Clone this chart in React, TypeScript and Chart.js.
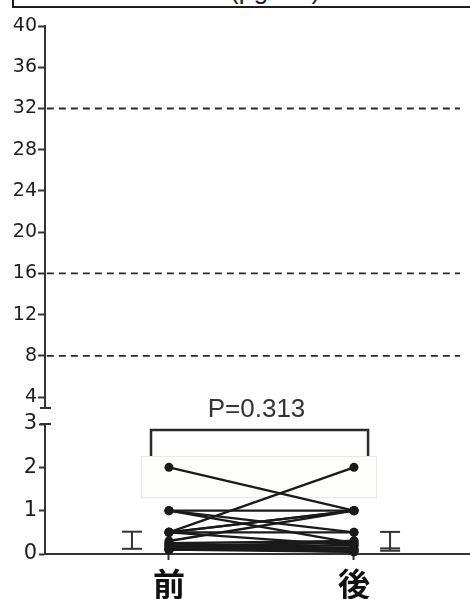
import React, { useEffect, useRef } from 'react';
import { Chart, registerables } from 'chart.js';

Chart.register(...registerables);

// ---- data ----
const groups = ['前', '後'];
const beforeValues = [2, 1, 1, 1, 0.5, 0.5, 0.5, 0.5, 0.5, 0.3, 0.25, 0.25, 0.2, 0.2, 0.15, 0.15, 0.1, 0.1, 0.1, 0.1];
const afterValues = [1, 1, 0.5, 0.25, 2, 1, 1, 0.5, 0.2, 1, 0.3, 0.1, 0.25, 0.1, 0.2, 0.05, 0.15, 0.1, 0.05, 0.3];
const upperTicks = [4, 8, 12, 16, 20, 24, 28, 32, 36, 40];
const lowerTicks = [0, 1, 2, 3];
const referenceLines = [8, 16, 32];
const errorBefore = [0.12, 0.515];
const errorAfter = [0.075, 0.13, 0.51];
const pLabel = 'P=0.313';
const titleText = '(μg/mL)';

// ---- layout constants (positions, not data) ----
const X_MIN = -0.67;
const X_MAX = 1.627;
const ERR_X_BEFORE = -0.2;
const ERR_X_AFTER = 1.195;
const DASH_END = 1.573;
const BRACKET_X = [-0.097, 1.076];
const BRACKET_Y = [2.26, 2.86];
const BOX_X = [-0.151, 1.124];
const BOX_Y = [1.29, 2.26];

const TICK_FONT = '"DejaVu Sans", sans-serif';

const overlay = {
  id: 'overlay',
  beforeDatasetsDraw(chart: any) {
    const { ctx, scales } = chart;
    const x = scales.x;
    const y = scales.yBot;
    ctx.save();
    const bx0 = x.getPixelForValue(BRACKET_X[0]);
    const bx1 = x.getPixelForValue(BRACKET_X[1]);
    const by0 = y.getPixelForValue(BRACKET_Y[0]);
    const by1 = y.getPixelForValue(BRACKET_Y[1]);
    ctx.strokeStyle = '#2a2a2a';
    ctx.lineWidth = 2.5;
    ctx.beginPath();
    ctx.moveTo(bx0, by0);
    ctx.lineTo(bx0, by1);
    ctx.lineTo(bx1, by1);
    ctx.lineTo(bx1, by0);
    ctx.stroke();

    const rx0 = x.getPixelForValue(BOX_X[0]);
    const rx1 = x.getPixelForValue(BOX_X[1]);
    const ry0 = y.getPixelForValue(BOX_Y[1]);
    const ry1 = y.getPixelForValue(BOX_Y[0]);
    ctx.fillStyle = '#fdfdfb';
    ctx.fillRect(rx0, ry0, rx1 - rx0, ry1 - ry0);
    ctx.strokeStyle = '#e6e6e6';
    ctx.lineWidth = 1;
    ctx.strokeRect(rx0 + 0.5, ry0 + 0.5, rx1 - rx0 - 1, ry1 - ry0 - 1);

    ctx.fillStyle = '#333';
    ctx.font = '26px "Liberation Sans", Arial, sans-serif';
    ctx.textAlign = 'center';
    ctx.textBaseline = 'alphabetic';
    ctx.fillText(pLabel, (bx0 + bx1) / 2 - 3, by1 - 13);
    ctx.restore();
  },
  afterDraw(chart: any) {
    const { ctx, scales } = chart;
    const top = scales.yTop;
    const bot = scales.yBot;
    const ax = chart.chartArea.left;
    ctx.save();
    ctx.strokeStyle = '#333';
    ctx.lineWidth = 2;
    ctx.beginPath();
    ctx.moveTo(ax - 5, top.bottom);
    ctx.lineTo(ax + 6, top.bottom);
    ctx.moveTo(ax - 5, bot.top);
    ctx.lineTo(ax + 6, bot.top);
    ctx.stroke();
    ctx.restore();
  },
};

export default function App() {
  const canvasRef = useRef<HTMLCanvasElement | null>(null);

  useEffect(() => {
    if (!canvasRef.current) return;
    const pairSets = beforeValues.map((b, i) => ({
      type: 'line' as const,
      data: [
        { x: 0, y: b },
        { x: 1, y: afterValues[i] },
      ],
      yAxisID: 'yBot',
      borderColor: '#1a1a1a',
      borderWidth: 2.3,
      pointRadius: 4.5,
      pointBackgroundColor: '#1a1a1a',
      pointBorderWidth: 0,
      clip: false as any,
    }));
    const errSets = [
      { xv: ERR_X_BEFORE, vals: errorBefore },
      { xv: ERR_X_AFTER, vals: errorAfter },
    ].map((e) => ({
      type: 'line' as const,
      data: e.vals.map((v) => ({ x: e.xv, y: v })),
      yAxisID: 'yBot',
      borderColor: '#333',
      borderWidth: 2,
      pointStyle: 'line' as const,
      pointRadius: 10,
      pointBorderWidth: 2,
      pointBorderColor: '#333',
    }));
    const dashSets = referenceLines.map((v) => ({
      type: 'line' as const,
      data: [
        { x: X_MIN + 0.01, y: v },
        { x: DASH_END, y: v },
      ],
      yAxisID: 'yTop',
      borderColor: '#2a2a2a',
      borderWidth: 1.8,
      borderDash: [7, 5],
      pointRadius: 0,
    }));

    const yAxis = (size: number, tickLength: number, padding: number) => ({
      type: 'linear' as const,
      position: 'left' as const,
      stack: 'ystack',
      border: { display: true, color: '#333', width: 2 },
      grid: {
        display: true,
        drawOnChartArea: false,
        drawTicks: true,
        tickLength,
        tickWidth: 2,
        tickColor: '#333',
      },
      ticks: {
        color: '#1e1e1e',
        padding,
        autoSkip: false,
        font: { family: TICK_FONT, size },
      },
      afterFit: (s: any) => {
        s.width = 45;
        s.paddingTop = 0;
        s.paddingBottom = 0;
      },
    });

    const chart = new Chart(canvasRef.current, {
      type: 'line',
      data: { datasets: [...pairSets, ...errSets, ...dashSets] as any },
      plugins: [overlay],
      options: {
        animation: false,
        responsive: false,
        maintainAspectRatio: false,
        layout: { autoPadding: false, padding: { top: 26, left: 0, right: 0, bottom: 0 } },
        plugins: { legend: { display: false }, tooltip: { enabled: false } },
        scales: {
          x: {
            type: 'linear',
            min: X_MIN,
            max: X_MAX,
            border: { display: true, color: '#333', width: 2 },
            grid: {
              display: true,
              drawOnChartArea: false,
              drawTicks: true,
              tickLength: 6,
              tickWidth: 2,
              tickColor: '#333',
            },
            afterBuildTicks: (s: any) => {
              s.ticks = groups.map((_, i) => ({ value: i }));
            },
            ticks: {
              color: '#111',
              padding: 5,
              maxRotation: 0,
              autoSkip: false,
              font: { family: '"Noto Sans CJK JP", sans-serif', size: 32, weight: 'bold' },
              callback: (v: any) => groups[Number(v)] ?? '',
            },
            afterFit: (s: any) => {
              s.height = 45;
              s.paddingLeft = 0;
              s.paddingRight = 0;
            },
          },
          yBot: {
            ...yAxis(21, 6, 2),
            min: 0,
            max: 3,
            stackWeight: 130,
            afterBuildTicks: (s: any) => {
              s.ticks = lowerTicks.map((v) => ({ value: v }));
            },
          },
          ySpacer: {
            type: 'linear',
            position: 'left',
            stack: 'ystack',
            stackWeight: 16,
            min: 0,
            max: 1,
            border: { display: false },
            grid: { display: false },
            ticks: { display: false },
            afterFit: (s: any) => {
              s.width = 45;
              s.paddingTop = 0;
              s.paddingBottom = 0;
            },
          },
          yTop: {
            ...yAxis(19, 7, 1),
            min: 2.95,
            max: 40,
            stackWeight: 382,
            afterBuildTicks: (s: any) => {
              s.ticks = upperTicks.map((v) => ({ value: v }));
            },
          },
        } as any,
      },
    });
    return () => chart.destroy();
  }, []);

  return (
    <div style={{ position: 'fixed', left: 0, top: 0, width: 470, height: 599, overflow: 'hidden', background: '#fff' }}>
      <canvas ref={canvasRef} width={470} height={599} style={{ display: 'block' }} />
      <div
        style={{
          position: 'absolute',
          left: 12,
          top: -24,
          width: 480,
          height: 32,
          border: '2px solid #1e1e1e',
          boxSizing: 'border-box',
          background: '#fff',
          overflow: 'hidden',
        }}
      >
        <span
          style={{
            position: 'absolute',
            left: 216,
            bottom: 0,
            fontFamily: '"Liberation Sans", Arial, sans-serif',
            fontSize: 26,
            color: '#222',
            whiteSpace: 'nowrap',
          }}
        >
          {titleText}
        </span>
      </div>
    </div>
  );
}
